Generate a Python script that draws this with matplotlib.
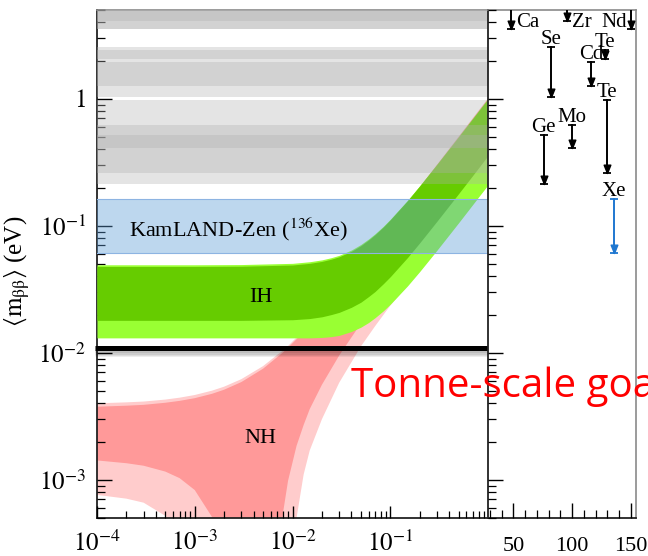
import numpy as np
import matplotlib
matplotlib.use("Agg")
import matplotlib.pyplot as plt
import matplotlib.patheffects as pe
from matplotlib.path import Path
from matplotlib.ticker import FixedLocator, LogLocator, NullFormatter, MultipleLocator

plt.rcParams["font.family"] = ["Liberation Serif", "DejaVu Serif"]
plt.rcParams["mathtext.fontset"] = "stix"

# ---------------- data ----------------
# Inverted hierarchy: lightest neutrino mass (eV) and band edges of <m_bb> (eV)
ih_mlight = [1e-4, 1e-3, 3e-3, 0.01, 0.015, 0.02, 0.025, 0.03, 0.04, 0.05,
             0.06, 0.07, 0.085, 0.1, 0.15, 0.2, 0.3, 0.5, 0.7, 1.0]
ih_dark_hi = [0.0478, 0.0478, 0.0480, 0.0491, 0.0506, 0.0524, 0.0546, 0.0570, 0.0629, 0.0697,
              0.0772, 0.0852, 0.0978, 0.1113, 0.1575, 0.2058, 0.3040, 0.5020, 0.7010, 1.0]
ih_dark_lo = [0.0180, 0.0180, 0.0180, 0.0182, 0.0186, 0.0192, 0.0200, 0.0208, 0.0228, 0.0250,
              0.0277, 0.0304, 0.0350, 0.0397, 0.0562, 0.0734, 0.1085, 0.1790, 0.2500, 0.3570]
ih_light_hi = [0.0493, 0.0493, 0.0495, 0.0506, 0.0521, 0.0539, 0.0561, 0.0585, 0.0644, 0.0712,
               0.0787, 0.0866, 0.0991, 0.1125, 0.1585, 0.2066, 0.3046, 0.5024, 0.7013, 1.0]
ih_light_lo = [0.0131, 0.0131, 0.0131, 0.0131, 0.0131, 0.0132, 0.0134, 0.0137, 0.0147, 0.0159,
               0.0173, 0.0189, 0.0214, 0.0241, 0.0336, 0.0436, 0.0641, 0.1056, 0.1475, 0.2100]

# Normal hierarchy (a lower edge of 0 means full cancellation)
nh_mlight = [1e-4, 2e-4, 3e-4, 5e-4, 7e-4, 1e-3, 1.5e-3, 2e-3, 3e-3, 5e-3, 7e-3, 8e-3,
             9e-3, 0.011, 0.013, 0.015, 0.02, 0.03, 0.05, 0.07, 0.1, 0.2, 0.5, 1.0]
nh_dark_hi = [0.00376, 0.00383, 0.00389, 0.00404, 0.00418, 0.00439, 0.00475, 0.00512,
              0.00588, 0.00749, 0.00926, 0.01007, 0.01095, 0.01279, 0.01464, 0.01652,
              0.02129, 0.0310, 0.0507, 0.0705, 0.1004, 0.2003, 0.5002, 1.0]
nh_dark_lo = [0.00142, 0.00135, 0.00129, 0.00116, 0.00103, 0.00083, 0.00051, 0.00020,
              0.0, 0.0, 0.00012, 0.00055, 0.00098, 0.00185, 0.0027, 0.0036,
              0.0056, 0.0095, 0.0170, 0.0245, 0.0354, 0.0714, 0.179, 0.357]
nh_light_hi = [0.00400, 0.00407, 0.00413, 0.00428, 0.00443, 0.00465, 0.00503, 0.00541,
               0.00620, 0.00785, 0.00965, 0.0104, 0.0113, 0.0132, 0.0151, 0.0170,
               0.0219, 0.0318, 0.0518, 0.0718, 0.1018, 0.2015, 0.5010, 1.0]
nh_light_lo = [0.00076, 0.00071, 0.00066, 0.00052, 0.00040, 0.00020, 0.0, 0.0,
               0.0, 0.0, 0.0, 0.0, 0.00005, 0.0005, 0.0011, 0.0017,
               0.0030, 0.0058, 0.0112, 0.0162, 0.0235, 0.0436, 0.1056, 0.21]

# Experimental upper-limit ranges on <m_bb> (eV) by isotope
isotopes = ["Ca", "Ge", "Se", "Zr", "Mo", "Cd", "Te", "Te", "Xe", "Nd"]
mass_number = [48, 76, 82, 96, 100, 116, 128, 130, 136, 150]
limit_hi = [8.0, 0.52, 2.57, 8.0, 0.624, 1.95, 2.43, 0.98, 0.163, 8.0]
limit_lo = [3.56, 0.214, 1.04, 4.1, 0.411, 1.27, 2.07, 0.262, 0.0612, 3.55]
kamland_isotope = "Xe"

goal_mbb = 0.011
goal_text = "Tonne-scale goal"

x_ticks = [1e-4, 1e-3, 1e-2, 1e-1]
x_tick_labels = [r"$10^{-4}$", r"$10^{-3}$", r"$10^{-2}$", r"$10^{-1}$"]
y_ticks = [1e-3, 1e-2, 1e-1, 1.0]
y_tick_labels = [r"$10^{-3}$", r"$10^{-2}$", r"$10^{-1}$", r"$1$"]
a_ticks = [50, 100, 150]
a_tick_labels = ["50", "100", "150"]

# ---------------- styling ----------------
pink_light, pink_dark = "#ffcccc", "#ff9999"
green_light, green_dark = "#99ff33", "#66cc00"
band_gray = "#aeaeae"
kz_blue = "#5b9bd5"
xe_blue = "#1f77d0"
dark_spine, light_spine = "#222222", "#8a8a8a"

fig = plt.figure(figsize=(6.48, 5.56), dpi=100)
ax = fig.add_axes([97 / 648, 38 / 556, 391 / 648, 508 / 556])
axr = fig.add_axes([488 / 648, 38 / 556, 148 / 648, 508 / 556], sharey=ax)

ax.set_xscale("log")
ax.set_yscale("log")
ax.set_xlim(1e-4, 1.0)
ax.set_ylim(5e-4, 5.0)
axr.set_xlim(28.4, 154.5)

floor = 1e-7
# NH bands
ax.fill_between(nh_mlight, np.maximum(nh_light_lo, floor), nh_light_hi,
                color=pink_light, lw=0, zorder=1)
ax.fill_between(nh_mlight, np.maximum(nh_dark_lo, floor), nh_dark_hi,
                color=pink_dark, lw=0, zorder=2)
# IH bands
ax.fill_between(ih_mlight, ih_light_lo, ih_light_hi, color=green_light, lw=0, zorder=3)
ax.fill_between(ih_mlight, ih_dark_lo, ih_dark_hi, color=green_dark, lw=0, zorder=4)

# Experimental limit bands
for name, hi, lo in zip(isotopes, limit_hi, limit_lo):
    if name == kamland_isotope:
        ax.axhspan(lo, hi, facecolor=kz_blue, alpha=0.4, lw=0, zorder=6)
        ax.axhline(lo, color="#8db4e2", lw=0.8, zorder=6)
        ax.axhline(hi, color="#8db4e2", lw=0.8, zorder=6)
    else:
        ax.axhspan(lo, hi, facecolor=band_gray, alpha=0.333, lw=0, zorder=5)

# Tonne-scale goal line with soft shadow
shadow = [pe.SimpleLineShadow(offset=(0, -d), shadow_color="k", alpha=0.07)
          for d in (1.0, 2.0, 3.0, 4.0, 5.0)]
ax.axhline(goal_mbb, xmin=-0.006, xmax=1.0, color="k", lw=3.6, clip_on=False,
           zorder=8, solid_capstyle="butt",
           path_effects=shadow + [pe.Normal()])
fig.text(351 / 648, (556 - 397) / 556, goal_text, color="#ff0000",
         family="Open Sans", fontsize=29, ha="left", va="baseline", zorder=20)

# Band labels
ax.text(0.00281, 0.0819, r"KamLAND-Zen ($^{136}$Xe)", fontsize=16,
        ha="center", va="baseline", zorder=9)
ax.text(0.00471, 0.0252, "IH", fontsize=16, ha="center", va="baseline", zorder=9)
ax.text(0.00471, 0.00195, "NH", fontsize=16, ha="center", va="baseline", zorder=9)

# Isotope limits as downward arrows
head = Path([(0, 0), (-0.4, 1), (0.4, 1), (0, 0)],
            [Path.MOVETO, Path.LINETO, Path.LINETO, Path.CLOSEPOLY])
side_labels = {"Ca": "right", "Zr": "right", "Nd": "left"}
for name, a, hi, lo in zip(isotopes, mass_number, limit_hi, limit_lo):
    c = xe_blue if name == kamland_isotope else "k"
    axr.plot([a, a], [hi, lo], color=c, lw=1.4, zorder=3)
    axr.plot([a], [lo], marker=head, ms=12, color=c, zorder=4)
    axr.plot([a, a], [hi, lo], ls="none", marker="_", ms=6, mew=1.3, color=c, zorder=4)
    if name in side_labels:
        left = side_labels[name] == "left"
        axr.annotate(name, (a, 0.9665), xycoords=("data", "axes fraction"),
                     xytext=(-2.5 if left else 3.5, 0), textcoords="offset points",
                     ha="right" if left else "left", va="baseline", fontsize=15)
    else:
        axr.annotate(name, (a, hi), xytext=(0, 2), textcoords="offset points",
                     ha="center", va="baseline", fontsize=15)

# ---------------- axes ----------------
ax.xaxis.set_major_locator(FixedLocator(x_ticks))
ax.set_xticklabels(x_tick_labels)
ax.xaxis.set_minor_locator(LogLocator(base=10, subs=np.arange(2, 10)))
ax.xaxis.set_minor_formatter(NullFormatter())
ax.yaxis.set_major_locator(FixedLocator(y_ticks))
ax.set_yticklabels(y_tick_labels)
ax.yaxis.set_minor_locator(LogLocator(base=10, subs=np.arange(2, 10)))
ax.yaxis.set_minor_formatter(NullFormatter())

ax.tick_params(axis="x", which="major", direction="in", length=9, width=1.0,
               labelsize=18, pad=9, top=False)
ax.tick_params(axis="x", which="minor", direction="in", length=5, width=0.9, top=False)
ax.tick_params(axis="y", which="major", direction="in", length=11, width=1.0,
               labelsize=18, pad=8, right=False)
ax.tick_params(axis="y", which="minor", direction="in", length=6, width=0.9, right=False)

axr.xaxis.set_major_locator(FixedLocator(a_ticks))
axr.set_xticklabels(a_tick_labels)
axr.xaxis.set_minor_locator(MultipleLocator(10))
axr.tick_params(axis="x", which="major", direction="in", length=11, width=1.0,
                labelsize=16, pad=14, top=False)
axr.tick_params(axis="x", which="minor", direction="in", length=6, width=0.9, top=False)
axr.tick_params(axis="y", which="major", direction="in", length=11, width=1.0,
                labelleft=False, right=False)
axr.tick_params(axis="y", which="minor", direction="in", length=6, width=0.9,
                labelleft=False, right=False)

for a_ in (ax, axr):
    a_.spines["left"].set_color(dark_spine)
    a_.spines["bottom"].set_color(dark_spine)
    a_.spines["left"].set_linewidth(1.3)
    a_.spines["bottom"].set_linewidth(1.3)
    a_.spines["top"].set_color(light_spine)
    a_.spines["right"].set_color(light_spine)
    a_.spines["top"].set_linewidth(1.2)
    a_.spines["right"].set_linewidth(1.2)
    a_.set_axisbelow(False)
ax.spines["right"].set_visible(False)

ax.set_ylabel(r"$\langle \mathrm{m}_{\mathrm{ββ}} \rangle$ (eV)", fontsize=18)
ax.yaxis.set_label_coords(-0.165, 0.486)

fig.savefig("out.png", dpi=100, facecolor="white")
